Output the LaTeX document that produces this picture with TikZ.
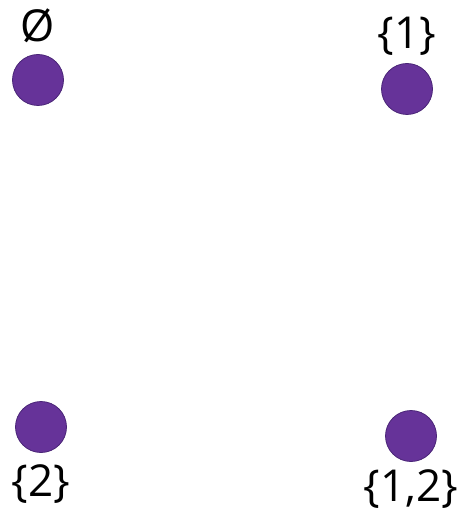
\documentclass[tikz,border=0pt]{standalone}
\usepackage{fontspec}
\setmainfont{Open Sans}
\definecolor{dotfill}{HTML}{663399}
\definecolor{dotline}{HTML}{4A2577}
\begin{document}
\begin{tikzpicture}[x=1pt, y=-1pt,
    dot/.style={circle, draw=dotline, fill=dotfill, line width=0.8pt, minimum size=51pt, inner sep=0pt},
    lbl/.style={font=\fontsize{44}{52}\selectfont, inner sep=0pt}]
    \useasboundingbox (0,0) rectangle (457,521);
    \node[dot, label={[lbl, label distance=11pt]above:Ø}] (empty) at (38,80) {};
    \node[dot, label={[lbl, label distance=7pt]above:\{1\}}] (one) at (407,89) {};
    \node[dot, label={[lbl, label distance=12pt]below:\{2\}}] (two) at (41,427) {};
    \node[dot, label={[lbl, label distance=8pt]below:\{1,2\}}] (both) at (411,436) {};
\end{tikzpicture}
\end{document}
